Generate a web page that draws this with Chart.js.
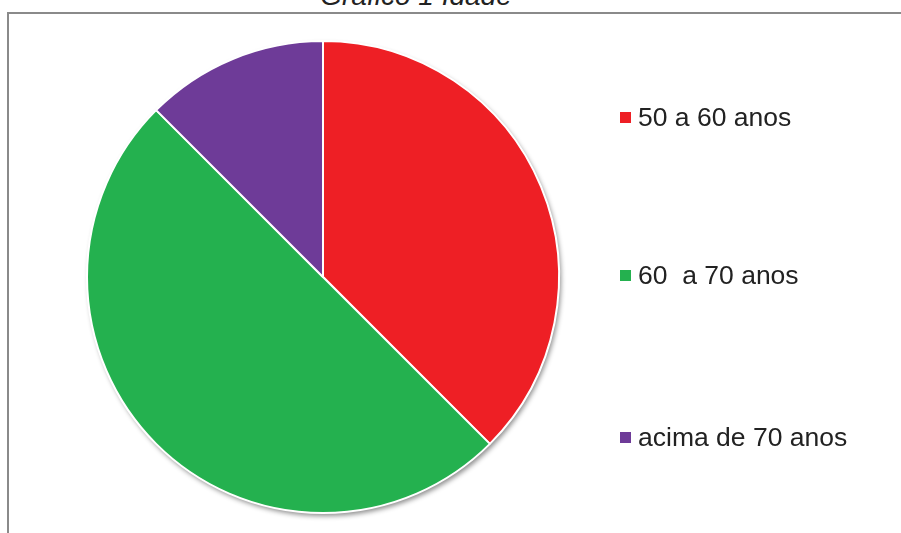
<!DOCTYPE html>
<html>
<head>
<meta charset="utf-8">
<script src="https://cdn.jsdelivr.net/npm/chart.js@4"></script>
<style>
    html, body { margin: 0; padding: 0; background: #fff; }
    body { width: 901px; height: 533px; position: relative; overflow: hidden; font-family: "Liberation Sans", Arial, sans-serif; }
    .frame { position: absolute; left: 7px; top: 12px; width: 1000px; height: 1000px; border: 2px solid #8a8a8a; box-sizing: border-box; }
    .title { position: absolute; left: 0; width: 832px; top: -20px; text-align: center; font-size: 28px; font-style: italic; font-weight: normal; color: #222; }
    #chart-wrap { position: absolute; left: 0; top: 0; width: 901px; height: 533px; }
    .legend { position: absolute; left: 620px; top: 0; }
    .legend-item { position: absolute; left: 0; white-space: pre; font-size: 26.5px; color: #222; line-height: 30px; }
    .legend-item i { display: inline-block; width: 11px; height: 11px; margin-right: 7px; vertical-align: 3px; }
</style>
</head>
<body>
<div class="frame"></div>
<div class="title" id="title"></div>
<div id="chart-wrap"><canvas id="pie-chart" width="901" height="533"></canvas></div>
<div class="legend" id="legend"></div>
<script>
// 数据
const titleText = 'Gráfico 1 Idade';
const labels = ['50 a 60 anos', '60  a 70 anos', 'acima de 70 anos'];
const values = [3, 4, 1];
const colors = ['#ee1f25', '#24b14f', '#6e3b98'];
const legendTops = [102, 260, 422];

document.getElementById('title').textContent = titleText;

// 图例
document.getElementById('legend').innerHTML = labels.map((label, i) => `
    <div class="legend-item" style="top:${legendTops[i]}px"><i style="background:${colors[i]}"></i>${escapeHtml(label)}</div>
`).join('');

// 阴影：先画一个带阴影的圆垫在扇形下面
const pieShadow = {
    id: 'pieShadow',
    beforeDatasetsDraw(chart) {
        const arc = chart.getDatasetMeta(0).data[0];
        if (!arc) return;
        const ctx = chart.ctx;
        ctx.save();
        ctx.shadowColor = 'rgba(0,0,0,0.45)';
        ctx.shadowBlur = 5;
        ctx.shadowOffsetX = 2;
        ctx.shadowOffsetY = 3;
        ctx.fillStyle = '#fff';
        ctx.beginPath();
        ctx.arc(arc.x, arc.y, arc.outerRadius, 0, Math.PI * 2);
        ctx.fill();
        ctx.restore();
    }
};

new Chart(document.getElementById('pie-chart'), {
    type: 'pie',
    data: {
        labels: labels,
        datasets: [{
            data: values,
            backgroundColor: colors,
            borderColor: '#fff',
            borderWidth: 2
        }]
    },
    options: {
        responsive: false,
        animation: false,
        layout: { padding: { left: 86, right: 341, top: 40, bottom: 19 } },
        plugins: {
            legend: { display: false },
            tooltip: { enabled: false },
            title: { display: false }
        }
    },
    plugins: [pieShadow]
});

// HTML转义
function escapeHtml(text) {
    if (!text) return '';
    const div = document.createElement('div');
    div.textContent = text;
    return div.innerHTML;
}
</script>
</body>
</html>
